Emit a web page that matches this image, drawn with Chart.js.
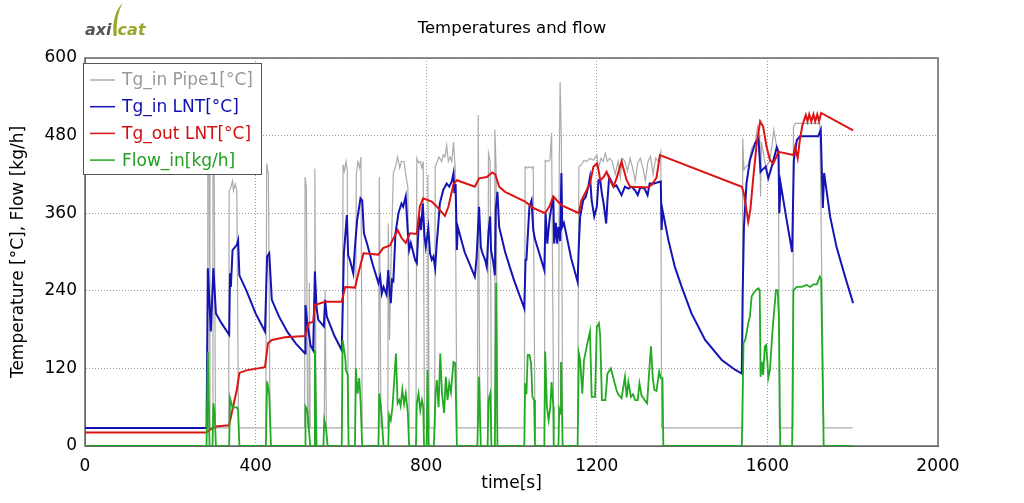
<!DOCTYPE html>
<html>
<head>
<meta charset="utf-8">
<title>Temperatures and flow</title>
<script src="https://cdn.jsdelivr.net/npm/chart.js@4.4.1/dist/chart.umd.min.js"></script>
<style>
  html, body { margin: 0; padding: 0; background: #fff; }
  #wrap { width: 1024px; height: 503px; }
</style>
</head>
<body>
<div id="wrap"><canvas id="chart" width="1024" height="503"></canvas></div>
<script>
// ── Series: [time s, value] ───────────────────────────────
const tgInPipe1 = [
  [0,28],[285,28],[287,28],[288,460],[291,430],[293,28],[299,28],[300,440],[303,415],[306,28],
  [337,28],[338,395],[342,400],[346,410],[348,395],[352,405],[356,395],[360,28],
  [424,28],[426,437],[430,420],[434,28],[515,28],[516,416],[519,400],[522,28],[525,28],[526,252],[528,28],
  [537,28],[539,429],[542,28],[561,28],[563,241],[566,28],[603,28],[605,435],[608,425],[612,440],[615,425],[617,28],
  [634,28],[636,420],[640,440],[644,430],[647,447],[650,28],[688,28],[690,416],[694,28],
  [710,28],[711,344],[714,164],[718,300],[723,422],[728,432],[733,447],[738,430],[742,440],[748,440],[752,420],[757,400],[760,28],
  [776,28],[778,445],[782,438],[786,440],[790,430],[793,440],[796,28],[802,28],[804,420],[807,28],
  [820,28],[821,432],[826,440],[830,447],[836,440],[840,450],[844,447],[848,465],[852,440],[856,447],[860,440],[864,470],[868,430],[872,28],
  [920,28],[922,512],[926,28],[944,28],[946,453],[950,440],[953,28],[960,28],[961,489],[964,430],[967,28],
  [1030,28],[1032,432],[1038,430],[1042,432],[1048,430],[1051,432],[1055,28],
  [1077,28],[1079,442],[1084,440],[1090,442],[1094,484],[1099,28],[1110,28],[1112,440],[1114,563],[1117,470],[1120,28],
  [1155,28],[1158,432],[1164,435],[1170,442],[1176,440],[1184,445],[1192,442],[1200,450],[1204,430],[1210,445],
  [1215,440],[1220,453],[1225,440],[1230,445],[1236,440],[1243,420],[1250,440],[1255,415],[1260,445],[1266,440],
  [1272,425],[1278,445],[1284,430],[1290,410],[1296,438],[1302,445],[1308,430],[1314,410],[1320,440],[1326,448],
  [1332,420],[1338,445],[1344,440],[1350,455],[1352,28],
  [1541,28],[1542,476],[1545,427],[1551,433],[1556,436],[1563,460],[1571,468],[1577,494],[1582,480],[1584,386],
  [1586,470],[1590,455],[1596,432],[1605,440],[1612,470],[1615,489],[1620,470],[1626,440],[1628,28],
  [1660,28],[1661,494],[1666,499],[1723,499],[1732,28],[1800,28]
];

const tgInLnt = [
  [0,28],[285,28],[288,275],[295,177],[301,275],[307,205],[320,190],[338,172],[340,267],[342,246],[346,303],
  [356,311],[359,318],[362,264],[380,238],[400,205],[422,177],[427,293],[432,298],[438,226],[455,200],[475,176],
  [495,158],[516,143],[517,218],[521,190],[526,169],[529,155],[535,148],[539,270],[543,213],[547,195],[560,185],
  [563,226],[567,200],[585,170],[602,148],[607,298],[614,357],[617,295],[621,288],[629,267],[633,308],[638,349],
  [646,383],[650,380],[654,329],[660,316],[675,280],[688,252],[692,262],[696,236],[700,246],[707,234],[711,272],
  [714,241],[717,221],[720,257],[723,255],[728,329],[735,360],[742,375],[746,370],[752,386],[757,329],[760,303],
  [764,314],[774,288],[778,283],[781,324],[784,355],[788,334],[792,375],[796,324],[799,308],[805,337],[809,298],
  [813,288],[817,293],[821,275],[825,316],[828,339],[832,375],[840,396],[848,406],[854,401],[860,409],[864,422],
  [866,391],[869,405],[872,303],[874,339],[890,300],[914,262],[918,290],[924,370],[928,308],[931,300],[938,288],
  [942,277],[946,330],[950,355],[952,303],[957,285],[961,264],[963,365],[967,393],[971,339],[985,300],[1005,258],
  [1030,213],[1033,288],[1035,288],[1042,370],[1047,380],[1051,334],[1055,320],[1077,272],[1080,360],[1084,313],
  [1086,329],[1090,355],[1094,370],[1098,386],[1100,313],[1104,345],[1107,313],[1110,339],[1114,317],[1117,422],
  [1119,339],[1123,345],[1140,290],[1155,254],[1158,313],[1161,355],[1168,380],[1174,385],[1180,401],[1184,416],
  [1188,380],[1194,355],[1200,370],[1204,411],[1208,411],[1212,390],[1216,375],[1222,344],[1225,380],[1229,416],
  [1233,411],[1240,401],[1246,403],[1254,393],[1258,388],[1266,401],[1274,398],[1282,401],[1290,395],[1296,388],
  [1302,400],[1312,398],[1319,388],[1324,406],[1335,406],[1344,408],[1350,409],[1352,334],[1354,365],[1368,318],
  [1383,277],[1399,246],[1422,205],[1454,164],[1493,133],[1524,118],[1540,112],[1542,236],[1545,339],[1551,406],
  [1559,442],[1571,468],[1579,476],[1584,424],[1588,427],[1596,432],[1602,414],[1608,427],[1622,462],[1626,455],
  [1628,360],[1631,406],[1645,350],[1658,300],[1662,442],[1669,473],[1676,479],[1719,479],[1725,489],[1730,368],
  [1733,422],[1747,355],[1762,308],[1782,262],[1801,221]
];

const tgOutLnt = [
  [0,21],[285,21],[295,26],[307,30],[338,32],[344,51],[356,87],[362,113],[378,117],[422,122],[429,159],[438,164],
  [469,168],[516,170],[524,190],[535,192],[539,218],[563,223],[602,223],[610,246],[633,245],[641,267],[653,298],
  [688,296],[699,306],[715,310],[733,334],[742,322],[752,314],[762,329],[778,328],[785,370],[793,383],[813,378],
  [828,368],[844,356],[852,370],[864,405],[872,411],[914,401],[924,414],[942,416],[955,423],[962,420],[971,401],
  [985,393],[1032,378],[1051,368],[1079,360],[1090,372],[1098,386],[1106,380],[1118,372],[1158,360],[1164,380],
  [1172,390],[1184,406],[1192,432],[1200,437],[1204,427],[1208,411],[1216,416],[1223,424],[1231,411],[1239,401],
  [1247,415],[1258,440],[1270,411],[1278,401],[1300,400],[1320,400],[1329,404],[1340,415],[1348,450],[1540,401],
  [1545,390],[1552,360],[1555,347],[1560,365],[1567,416],[1575,468],[1583,502],[1590,494],[1598,463],[1606,442],
  [1614,437],[1626,455],[1661,450],[1665,463],[1671,445],[1676,473],[1682,496],[1686,504],[1690,512],[1694,502],
  [1698,513],[1703,502],[1708,513],[1712,502],[1717,513],[1721,502],[1726,515],[1801,488]
];

const flowIn = [
  [0,0],[285,0],[288,146],[292,0],[299,0],[301,66],[304,50],[307,0],[338,0],[340,74],[346,59],[356,60],[359,55],[362,0],
  [424,0],[427,100],[432,80],[436,0],[516,0],[517,61],[521,56],[524,35],[528,0],[537,0],[539,148],[543,0],
  [559,0],[561,40],[565,28],[569,0],[602,0],[604,164],[610,138],[612,117],[616,110],[618,0],
  [633,0],[635,120],[639,81],[643,105],[646,71],[650,0],[688,0],[690,81],[694,61],[700,0],
  [711,0],[713,48],[717,40],[721,61],[725,102],[729,143],[733,66],[737,71],[740,62],[744,87],[748,65],[752,81],[757,51],[760,0],
  [776,0],[778,66],[782,81],[786,55],[790,71],[793,61],[795,0],[801,0],[803,117],[806,0],
  [818,0],[822,81],[825,102],[829,60],[833,143],[837,81],[842,51],[846,107],[850,71],[854,97],[858,83],[864,130],[868,128],[872,0],
  [920,0],[924,107],[928,0],[944,0],[946,71],[950,81],[953,0],[961,0],[964,252],[967,0],
  [1030,0],[1032,97],[1035,80],[1038,141],[1042,141],[1046,128],[1049,76],[1053,71],[1055,0],
  [1077,0],[1079,146],[1083,61],[1087,40],[1091,61],[1094,99],[1098,61],[1099,0],[1110,0],[1112,56],[1114,50],[1116,130],[1120,0],
  [1155,0],[1158,143],[1161,133],[1166,81],[1170,133],[1178,159],[1184,177],[1188,76],[1196,76],[1200,184],[1205,190],
  [1208,170],[1212,71],[1220,71],[1225,112],[1233,120],[1240,102],[1246,87],[1250,80],[1258,74],[1266,107],[1270,75],
  [1274,99],[1280,76],[1285,80],[1290,71],[1296,71],[1300,97],[1305,78],[1312,71],[1318,66],[1322,107],[1327,154],
  [1331,107],[1335,87],[1340,85],[1346,115],[1350,105],[1354,105],[1356,0],
  [1540,0],[1544,159],[1548,164],[1551,174],[1555,190],[1559,200],[1563,231],[1567,236],[1573,241],[1579,244],[1582,241],
  [1584,107],[1587,130],[1590,110],[1594,154],[1597,156],[1600,130],[1602,105],[1606,118],[1612,179],[1620,241],[1624,241],
  [1627,200],[1630,0],[1658,0],[1661,241],[1669,246],[1680,246],[1692,249],[1700,246],[1708,250],[1716,250],[1723,262],
  [1726,258],[1732,0],[1800,0]
];

const seriesLabels = ['Tg_in Pipe1[°C]', 'Tg_in LNT[°C]', 'Tg_out LNT[°C]', 'Flow_in[kg/h]'];
const xTicks = [0, 400, 800, 1200, 1600, 2000];
const yTicks = [0, 120, 240, 360, 480, 600];

// ── Styling ──────────────────────────────────────────────
const FONT   = '"DejaVu Sans", Verdana, sans-serif';
const GRAY   = '#ababab';
const BLUE   = '#1414b4';
const RED    = '#dc1414';
const GREEN  = '#22aa22';
const legendText = ['#999999', '#1010b0', '#d01010', '#20a020'];

const toXY = pairs => pairs.map(([x, y]) => ({ x, y }));

// frame around the plot area (top/right sides too)
const frame = {
  id: 'frame',
  beforeDatasetsDraw(chart) {
    const { ctx, chartArea: a } = chart;
    ctx.save();
    ctx.strokeStyle = '#666';
    ctx.lineWidth = 1.5;
    ctx.strokeRect(a.left, a.top, a.right - a.left, a.bottom - a.top);
    ctx.restore();
  }
};

// boxed legend sitting over the top-left of the plot
const boxLegend = {
  id: 'boxLegend',
  afterDatasetsDraw(chart) {
    const ctx = chart.ctx;
    ctx.save();
    ctx.fillStyle = '#fff';
    ctx.fillRect(83.5, 63.5, 178, 111);
    ctx.strokeStyle = '#555';
    ctx.lineWidth = 1;
    ctx.strokeRect(83.5, 63.5, 178, 111);
    ctx.font = '17px ' + FONT;
    ctx.textBaseline = 'middle';
    chart.data.datasets.forEach((ds, i) => {
      const y = 80 + i * 26.7;
      ctx.strokeStyle = ds.borderColor;
      ctx.lineWidth = 1.5;
      ctx.beginPath();
      ctx.moveTo(90, y);
      ctx.lineTo(115, y);
      ctx.stroke();
      ctx.fillStyle = legendText[i];
      ctx.fillText(ds.label, 122, y + 1);
    });
    ctx.restore();
  }
};

// small "axicat" logo top-left
const logo = {
  id: 'logo',
  afterDraw(chart) {
    const ctx = chart.ctx;
    ctx.save();
    ctx.font = 'italic bold 16px ' + FONT;
    ctx.textBaseline = 'alphabetic';
    ctx.fillStyle = '#555';
    ctx.fillText('axi', 85, 35);
    const w = ctx.measureText('axi').width;
    ctx.fillStyle = '#9aa52e';
    ctx.fillText('cat', 85 + w + 6, 35);
    const sx = 85 + w + 2;
    ctx.beginPath();
    ctx.moveTo(sx, 36);
    ctx.quadraticCurveTo(sx - 2, 14, sx + 9, 3);
    ctx.quadraticCurveTo(sx + 2, 16, sx + 3, 36);
    ctx.closePath();
    ctx.fill();
    ctx.restore();
  }
};

const axisFont = { family: FONT, size: 17 };

new Chart(document.getElementById('chart'), {
  type: 'line',
  data: {
    datasets: [
      { label: seriesLabels[0], data: toXY(tgInPipe1), borderColor: GRAY,  borderWidth: 1.2, order: 4 },
      { label: seriesLabels[1], data: toXY(tgInLnt),   borderColor: BLUE,  borderWidth: 2,   order: 3 },
      { label: seriesLabels[2], data: toXY(tgOutLnt),  borderColor: RED,   borderWidth: 2,   order: 2 },
      { label: seriesLabels[3], data: toXY(flowIn),    borderColor: GREEN, borderWidth: 1.8, order: 1 }
    ]
  },
  options: {
    responsive: false,
    animation: false,
    devicePixelRatio: 1,
    layout: { padding: 0 },
    elements: { line: { tension: 0, fill: false }, point: { radius: 0, hoverRadius: 0 } },
    plugins: {
      legend: { display: false },
      tooltip: { enabled: false },
      title: {
        display: true,
        text: 'Temperatures and flow',
        color: '#000',
        font: { family: FONT, size: 16.5, weight: 'normal', lineHeight: 1.25 },
        padding: { top: 18, bottom: 19.4 }
      }
    },
    scales: {
      x: {
        type: 'linear',
        min: xTicks[0],
        max: xTicks[xTicks.length - 1],
        afterBuildTicks: s => { s.ticks = xTicks.map(v => ({ value: v })); },
        ticks: { color: '#000', font: axisFont, padding: 10, maxRotation: 0, callback: v => String(v) },
        grid: { color: '#9a9a9a', drawTicks: false },
        border: { display: true, color: '#666', dash: [1, 2] },
        title: { display: true, text: 'time[s]', color: '#000', font: axisFont, padding: 9 },
        afterFit: s => { s.height = 57; }
      },
      y: {
        type: 'linear',
        min: yTicks[0],
        max: yTicks[yTicks.length - 1],
        afterBuildTicks: s => { s.ticks = yTicks.map(v => ({ value: v })); },
        ticks: { color: '#000', font: axisFont, padding: 8, callback: v => String(v) },
        grid: { color: '#9a9a9a', drawTicks: false },
        border: { display: true, color: '#666', dash: [1, 2] },
        title: { display: true, text: 'Temperature [°C], Flow [kg/h]', color: '#000', font: axisFont, padding: 8 },
        afterFit: s => { s.width = 85; }
      },
      // empty right-hand strip so the plot ends at 2000 where the reference does
      spacer: {
        type: 'linear',
        position: 'right',
        min: 0,
        max: 1,
        display: true,
        grid: { display: false, drawOnChartArea: false },
        border: { display: false },
        ticks: { display: false },
        afterFit: s => { s.width = 86; }
      }
    }
  },
  plugins: [frame, boxLegend, logo]
});
</script>
</body>
</html>
